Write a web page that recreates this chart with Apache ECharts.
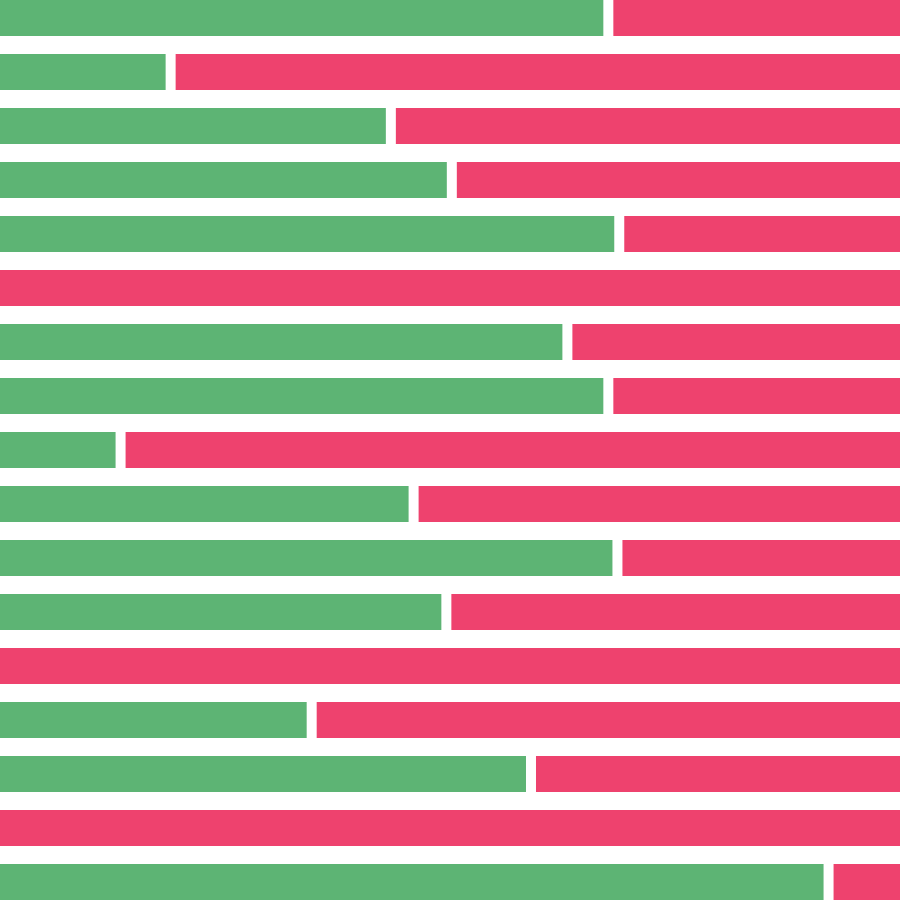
<!DOCTYPE html>
<html>
<head>
<meta charset="utf-8">
<script src="https://cdn.jsdelivr.net/npm/echarts@6/dist/echarts.min.js"></script>
<style>
  html, body { margin: 0; padding: 0; background: #fff; overflow: hidden; width: 900px; height: 900px; }
  /* slightly larger than the window so the white outline falls outside */
  #chart { width: 910px; height: 918px; margin-left: -5px; margin-top: -9px; }
</style>
</head>
<body>
<div id="chart"></div>
<script>
const rows = ["1", "2", "3", "4", "5", "6", "7", "8", "9", "10", "11", "12", "13", "14", "15", "16", "17"];
const greenValues = [67.4, 19.3, 43.5, 50.2, 68.6, 0, 62.9, 67.4, 13.8, 46.0, 68.4, 49.6, 0, 34.8, 58.9, 0, 91.6];
const redValues = [32.6, 80.7, 56.5, 49.8, 31.4, 100, 37.1, 32.6, 86.2, 54.0, 31.6, 50.4, 100, 65.2, 41.1, 100, 8.4];

const chart = echarts.init(document.getElementById("chart"));

// white outline cuts the gaps between pieces and rows
const barStyle = (color) => ({
    color: color,
    borderColor: "#ffffff",
    borderWidth: 5
});

chart.setOption({
    animation: false,
    grid: { left: 0, right: 0, top: 0, bottom: 0, containLabel: false },
    xAxis: { type: "value", min: 0, max: 100, show: false },
    yAxis: { type: "category", data: rows, inverse: true, show: false },
    series: [
        {
            type: "bar",
            stack: "total",
            data: greenValues,
            barWidth: 46,
            itemStyle: barStyle("#5db474")
        },
        {
            type: "bar",
            stack: "total",
            data: redValues,
            barWidth: 46,
            itemStyle: barStyle("#ee426e")
        }
    ]
});
</script>
</body>
</html>
